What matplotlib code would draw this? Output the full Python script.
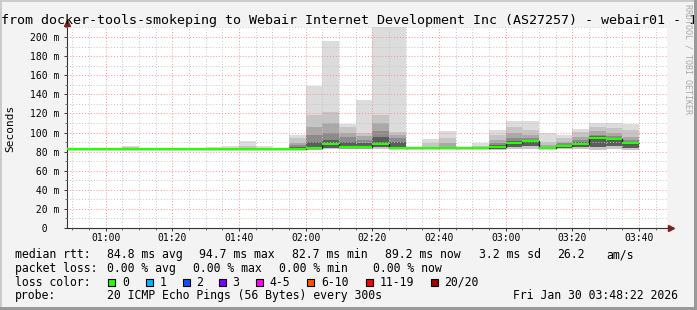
import numpy as np
import pandas as pd
import matplotlib
matplotlib.use("Agg")
import matplotlib.pyplot as plt
import matplotlib.dates as mdates
from matplotlib.patches import Rectangle

W, H = 697, 310
MONO = "DejaVu Sans Mono"
plt.rcParams['font.family'] = MONO

# --- data: one 5 minute step per entry (end of step) ---
step_end = pd.date_range("2026-01-30 00:50", "2026-01-30 03:40", freq="5min")

rtt_med = [83.0, 83.0, 82.9, 83.0, 83.0, 83.0, 82.9, 83.0, 83.0, 83.0, 83.0, 83.0, 83.0, 82.9, 83.0,
           84.0, 87.6, 85.0, 85.0, 88.3, 83.5, 83.5, 83.3, 83.3, 83.3, 83.5, 84.5, 89.0, 90.6, 84.2,
           86.2, 88.3, 94.7, 93.5, 89.2]
rtt_min = [83.0, 83.0, 82.9, 83.0, 83.0, 83.0, 82.9, 83.0, 83.0, 83.0, 83.0, 83.0, 83.0, 82.9, 82.0,
           81.7, 82.7, 82.5, 82.5, 83.0, 82.5, 83.5, 83.0, 83.0, 83.3, 83.0, 81.7, 82.4, 82.4, 83.0,
           82.5, 82.5, 81.7, 83.0, 81.7]
rtt_lo = [83.0, 83.0, 82.9, 83.0, 83.0, 83.0, 82.9, 83.0, 83.0, 83.0, 83.0, 83.0, 83.0, 82.9, 82.5,
          82.5, 84.0, 83.5, 83.5, 85.0, 83.0, 83.5, 83.3, 83.3, 83.3, 83.5, 83.0, 85.0, 86.0, 83.5,
          84.0, 84.5, 85.0, 85.5, 84.0]
rtt_u1 = [83.0, 83.0, 82.9, 83.0, 83.0, 83.0, 82.9, 83.0, 83.0, 83.0, 83.0, 83.0, 83.0, 82.9, 85.0,
          90.0, 92.0, 90.4, 88.7, 95.0, 90.0, 83.5, 83.3, 83.3, 83.3, 83.5, 86.5, 91.0, 92.0, 84.2,
          86.2, 90.0, 96.0, 94.5, 90.5]
rtt_u2 = [83.0, 83.0, 82.9, 83.0, 83.0, 83.0, 82.9, 83.0, 83.0, 83.0, 83.0, 83.0, 83.0, 82.9, 87.0,
          97.0, 99.0, 95.0, 92.0, 102.0, 94.0, 83.5, 83.3, 83.3, 83.3, 83.5, 88.7, 94.0, 94.0, 84.2,
          88.5, 92.0, 97.4, 96.0, 92.0]
rtt_u3 = [83.0, 83.0, 82.9, 83.0, 83.0, 83.0, 82.9, 83.0, 83.0, 83.0, 83.0, 83.0, 83.0, 82.9, 89.0,
          106.0, 109.6, 99.0, 96.6, 110.0, 97.4, 83.5, 83.3, 88.7, 83.3, 83.5, 92.0, 99.0, 97.4, 87.0,
          90.4, 95.6, 101.9, 99.0, 95.6]
rtt_u4 = [83.0, 83.0, 82.9, 83.0, 84.5, 83.0, 82.9, 83.0, 83.0, 83.0, 83.0, 86.0, 83.0, 82.9, 94.0,
          118.0, 122.0, 106.0, 99.8, 118.0, 100.8, 83.5, 88.7, 94.0, 83.3, 86.0, 97.4, 106.0, 102.6, 90.4,
          94.0, 100.8, 106.0, 104.4, 102.6]
rtt_max = [83.0, 83.0, 82.9, 83.0, 86.0, 83.0, 82.9, 83.0, 83.0, 85.0, 86.0, 91.4, 86.0, 82.9, 97.4,
           149.0, 196.0, 108.5, 134.0, 230.0, 230.0, 83.5, 93.0, 101.5, 83.3, 89.5, 102.6, 112.4, 112.4, 99.8,
           97.4, 103.3, 109.6, 109.6, 109.0]

loss_labels = ["0", "1", "2", "3", "4-5", "6-10", "11-19", "20/20"]
loss_colors = ["#26ff00", "#00b8ff", "#0059ff", "#7e00ff", "#ff00ff", "#ff5500", "#ff0000", "#a10000"]

y_ticks = [0, 20, 40, 60, 80, 100, 120, 140, 160, 180, 200]
y_labels = ["  0", " 20 m", " 40 m", " 60 m", " 80 m", "100 m", "120 m", "140 m", "160 m", "180 m", "200 m"]

title = "from docker-tools-smokeping to Webair Internet Development Inc (AS27257) - webair01 - 1"

# --- figure ---
fig = plt.figure(figsize=(W / 100, H / 100), dpi=100, facecolor="#f3f3f3")
ax = fig.add_axes([67 / W, (H - 228) / H, 600 / W, 201 / H])
ax.set_facecolor("white")

x_end = mdates.date2num(step_end.to_pydatetime())
wd = 5 / 1440.0
x0 = x_end - wd

bands = [(rtt_min, rtt_max, "#dcdcdc"),
         (rtt_min, rtt_u4, "#c5c5c5"),
         (rtt_lo, rtt_u3, "#a9a9a9"),
         (rtt_lo, rtt_u2, "#8b8b8b"),
         (rtt_lo, rtt_u1, "#5c5c5c")]
for bot, top, col in bands:
    bot = np.array(bot)
    top = np.array(top)
    ax.bar(x0, top - bot, bottom=bot, width=wd, align="edge", color=col,
           linewidth=0, zorder=1)

edges = np.append(x0, x_end[-1])
ax.stairs(rtt_med, edges, baseline=None, color="#202020", lw=1.0, zorder=3)
ax.hlines(rtt_med, x0, x_end, color=loss_colors[0], lw=1.6, zorder=4)

ax.set_xlim(mdates.date2num(pd.Timestamp("2026-01-30 00:48:22")),
            mdates.date2num(pd.Timestamp("2026-01-30 03:48:22")))
ax.set_ylim(0, 210.5)

ax.xaxis.set_major_locator(mdates.MinuteLocator(byminute=[0, 20, 40]))
ax.xaxis.set_minor_locator(mdates.MinuteLocator(byminute=range(0, 60, 5)))
ax.xaxis.set_major_formatter(mdates.DateFormatter("%H:%M"))
ax.set_yticks(y_ticks, y_labels, ha="left")
ax.yaxis.set_minor_locator(matplotlib.ticker.MultipleLocator(10))

ax.set_axisbelow(False)
ax.grid(which="minor", color="#c4c4c4", linestyle=(0, (1, 2)), linewidth=0.7)
ax.grid(which="major", color="#ff8c8c", linestyle=(0, (1, 2)), linewidth=0.7)

for s in ["top", "right"]:
    ax.spines[s].set_visible(False)
for s in ["left", "bottom"]:
    ax.spines[s].set_color("#333333")
    ax.spines[s].set_linewidth(0.8)

ax.tick_params(which="major", direction="out", length=2.2, width=0.7, color="#333333",
               labelsize=7)
ax.tick_params(which="minor", direction="out", length=1.4, width=0.6, color="#555555")
ax.tick_params(axis="x", which="major", pad=1.5)
ax.tick_params(axis="y", which="major", pad=24.4)

# axis arrows
ax.plot([0, 0], [1, 1.02], color="#333333", lw=0.8, transform=ax.transAxes, clip_on=False)
ax.plot([1, 1.006], [0, 0], color="#333333", lw=0.8, transform=ax.transAxes, clip_on=False)
ax.plot([0], [1.02], marker="^", ms=4, color="#7f1f1f", transform=ax.transAxes, clip_on=False)
ax.plot([1.007], [0], marker=">", ms=4, color="#7f1f1f", transform=ax.transAxes, clip_on=False)

fig.text(10 / W, 1 - 128 / H, "Seconds", rotation=90, ha="center", va="center", size=8)
fig.text(1 / W, 1 - 24 / H, title, va="baseline", ha="left", size=9.6)
fig.text(688 / W, 1 - 4 / H, "RRDTOOL / TOBI OETIKER", rotation=270, ha="center", va="top",
         size=6, color="#a8a8a8")

# legend block
def ftxt(x, y, s):
    fig.text((x - 0.7) / W, 1 - y / H, s, ha="left", va="baseline", size=8.3)

rows = [
    (258.3, [(16, "median rtt:"), (107.3, "84.8 ms avg"), (200, "94.7 ms max"),
             (293, "82.7 ms min"), (386, "89.2 ms now"), (480, "3.2 ms sd"),
             (558.3, "26.2"), (606.7, "am/s")]),
    (272.0, [(16, "packet loss:"), (107.3, "0.00 % avg"), (193.3, "0.00 % max"),
             (279.3, "0.00 % min"), (373.3, "0.00 % now")]),
    (285.7, [(16, "loss color:")]),
    (299.4, [(16, "probe:"), (107.3, "20 ICMP Echo Pings (56 Bytes) every 300s"),
             (513.3, "Fri Jan 30 03:48:22 2026")]),
]
for y, items in rows:
    for x, s in items:
        ftxt(x, y, s)

box_x = [108.3, 145.7, 182.7, 219, 256, 307.3, 366, 431]
lab_x = [123.3, 160, 196.7, 233.3, 270, 321.7, 380.7, 445]
for bx, lx, lab, col in zip(box_x, lab_x, loss_labels, loss_colors):
    fig.patches.append(Rectangle((bx / W, 1 - 286 / H), 7 / W, 7 / H, transform=fig.transFigure,
                                 facecolor=col, edgecolor="black", linewidth=0.8))
    ftxt(lx, 285.7, lab)

# 3d frame
def frame(x, y, w, h, c):
    fig.patches.append(Rectangle((x / W, 1 - (y + h) / H), w / W, h / H,
                                 transform=fig.transFigure, facecolor=c, edgecolor="none",
                                 zorder=10))

frame(0, 0, W, 2, "#cbcbcb")
frame(0, 0, 2, H, "#cbcbcb")
frame(0, H - 3, W, 3, "#999999")
frame(W - 3, 0, 3, H, "#999999")

fig.savefig("out.png", dpi=100, facecolor=fig.get_facecolor())
